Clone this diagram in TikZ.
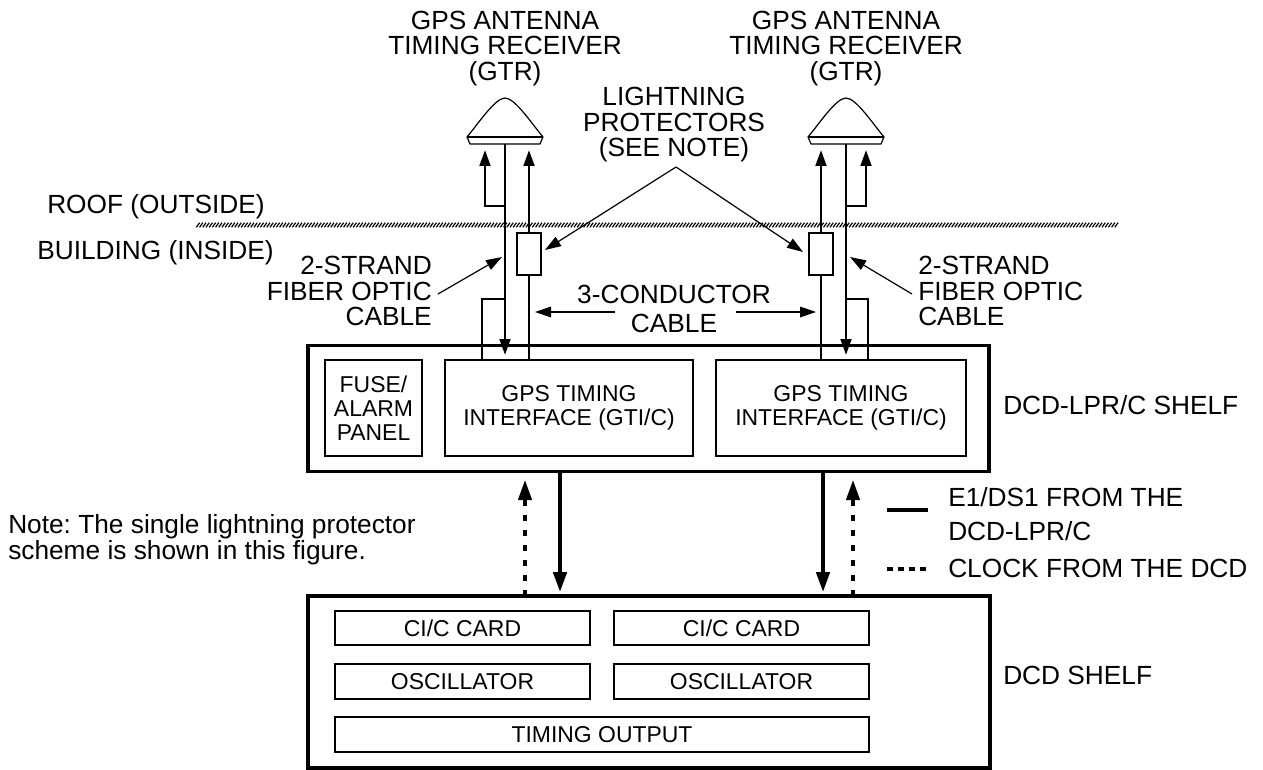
\documentclass[tikz,border=0pt]{standalone}
\usepackage{fontspec}
\setmainfont{Liberation Sans}
\usetikzlibrary{arrows.meta}
\tikzset{
  big/.style={font=\fontsize{19.7pt}{19.1pt}\selectfont\frenchspacing,inner sep=0pt},
  shelf/.style={draw,line width=2.5pt,inner sep=0pt},
  card/.style={draw,line width=1.8pt,inner sep=0pt,font=\fontsize{17.2pt}{17.8pt}\selectfont,align=center},
  protector/.style={draw,line width=1.8pt,inner sep=0pt,minimum width=18pt,minimum height=31.5pt},
  cable/.style={line width=2.1pt},
  cablearrow/.style={line width=2.1pt,-{Triangle[length=12pt,width=8pt]}},
  leader/.style={line width=0.9pt,-{Triangle[length=12pt,width=8pt]}},
  signal/.style={line width=2.8pt,-{Triangle[length=15pt,width=10pt]}},
  clocksig/.style={line width=2.5pt,dash pattern=on 4.5pt off 6.8pt,-{Triangle[length=15pt,width=10pt]}},
}
\begin{document}
\begin{tikzpicture}[x=0.75pt,y=-0.75pt]
\useasboundingbox (0,0) rectangle (1263,770);
% roof line
\foreach \h in {198,201.2,...,1118}{\draw[line width=0.9pt] (\h-1.6,227.3)--(\h+1.6,222.7);}
% shelves and cards
\node[shelf,minimum width=510.75pt,minimum height=94.5pt] (lpr) at (648.5,408.5) {};
\node[shelf,minimum width=511.5pt,minimum height=129pt] (dcd) at (649,682) {};
\node[card,minimum width=72.75pt,minimum height=72pt] (fuse) at (373.5,408) {FUSE/\\ALARM\\PANEL};
\node[card,minimum width=186pt,minimum height=72pt] (gti1) at (569,408) {GPS TIMING\\INTERFACE (GTI/C)};
\node[card,minimum width=187.5pt,minimum height=72pt] (gti2) at (841,408) {GPS TIMING\\INTERFACE (GTI/C)};
\node[card,minimum width=191.25pt,minimum height=25.5pt] (ci1) at (462.5,628) {CI/C CARD};
\node[card,minimum width=191.25pt,minimum height=25.5pt] (ci2) at (741.5,628) {CI/C CARD};
\node[card,minimum width=191.25pt,minimum height=26.25pt] (osc1) at (462.5,681.5) {OSCILLATOR};
\node[card,minimum width=191.25pt,minimum height=26.25pt] (osc2) at (741.5,681.5) {OSCILLATOR};
\node[card,minimum width=400.5pt,minimum height=26.25pt] (tim) at (602,734.5) {TIMING OUTPUT};
% protectors
\node[protector] (lp1) at (529,254) {};
\node[protector] (lp2) at (821,254) {};
% antennas
\coordinate (ant1) at (505,144);
\coordinate (ant2) at (846,144);
\foreach \a in {ant1,ant2}{
  \begin{scope}[shift={(\a)}]
    \draw[line width=0.9pt,line join=round] (-38,-7) .. controls (-27,-20) and (-10,-46) .. (0,-46) .. controls (10,-46) and (27,-20) .. (38,-7) -- (35,0) -- (-35,0) -- cycle;
    \draw[line width=1.8pt] (-38,-7) -- (38,-7);
  \end{scope}
}
% cable tips and junctions
\coordinate (tipa) at (485,150);
\coordinate (tipb) at (866,150);
\coordinate (jua) at (505,206);
\coordinate (jub) at (846,206);
\coordinate (jla) at (505,299);
\coordinate (jlb) at (846,299);
\coordinate (stuba) at (482,299);
\coordinate (stubb) at (868,299);
\coordinate (enda) at (505,355);
\coordinate (endb) at (846,355);
% cables
\draw[cablearrow] (ant1) -- (enda);
\draw[cablearrow] (ant2) -- (endb);
\draw[cablearrow] (jua) -| (tipa);
\draw[cablearrow] (jub) -| (tipb);
\draw[cable] (jla) -- (stuba) -- (stuba |- gti1.north);
\draw[cable] (jlb) -- (stubb) -- (stubb |- gti2.north);
\draw[cablearrow] (lp1.north) -- (lp1.north |- tipa);
\draw[cablearrow] (lp2.north) -- (lp2.north |- tipb);
\draw[cable] (lp1.south) -- (lp1.south |- gti1.north);
\draw[cable] (lp2.south) -- (lp2.south |- gti2.north);
% labels
\node[big,align=center] (gtra) at (505,48.5) {GPS ANTENNA\\TIMING RECEIVER\\(GTR)};
\node[big,align=center] (gtrb) at (846,48.5) {GPS ANTENNA\\TIMING RECEIVER\\(GTR)};
\node[big,align=center] (lpl) at (674,125) {LIGHTNING\\PROTECTORS\\(SEE NOTE)};
\node[big,anchor=base west] (roof) at (47,214) {ROOF (OUTSIDE)};
\node[big,anchor=base west] (bldg) at (37,259) {BUILDING (INSIDE)};
\node[big,align=right,anchor=east] (fa) at (432,291) {2-STRAND\\FIBER OPTIC\\CABLE};
\node[big,align=left,anchor=west] (fb) at (918,291) {2-STRAND\\FIBER OPTIC\\CABLE};
\node[big,align=center] (cond) at (674,309) {3-CONDUCTOR\\[2.5pt]CABLE};
\node[big,anchor=base west] (lprl) at (1003,414) {DCD-LPR/C SHELF};
\node[big,anchor=base west] (dcdl) at (1003,684) {DCD SHELF};
\node[big,align=left,anchor=base west] (note) at (8,559) {Note: The single lightning protector\\scheme is shown in this figure.};
\node[big,align=left,anchor=base west] (e1) at (948,540) {E1/DS1 FROM THE\\[6.4pt]DCD-LPR/C};
\node[big,anchor=base west] (clk) at (948,577) {CLOCK FROM THE DCD};
% leaders
\coordinate (lpapex) at (676,167);
\coordinate (la) at (438,294);
\coordinate (lb) at (912,294);
\coordinate (lat) at (502,257);
\coordinate (lbt) at (850,257);
\coordinate (pa) at (545,250);
\coordinate (pb) at (803,252);
\coordinate (ca) at (615,312);
\coordinate (cb) at (736,312);
\coordinate (cat) at (535,312);
\coordinate (cbt) at (816,312);
\draw[leader] (la) -- (lat);
\draw[leader] (lb) -- (lbt);
\draw[leader] (lpapex) -- (pa);
\draw[leader] (lpapex) -- (pb);
\draw[leader] (ca) -- (cat);
\draw[leader] (cb) -- (cbt);
% signals between shelves
\coordinate (s1) at (560,471);
\coordinate (s2) at (823,471);
\coordinate (c1) at (525,596);
\coordinate (c2) at (853,596);
\draw[signal] (s1) -- (s1 |- 0,592);
\draw[signal] (s2) -- (s2 |- 0,592);
\draw[clocksig] (c1) -- (c1 |- 0,480);
\draw[clocksig] (c2) -- (c2 |- 0,480);
% legend
\coordinate (k1) at (887,510);
\coordinate (k2) at (928,510);
\coordinate (k3) at (887,569);
\coordinate (k4) at (928,569);
\draw[line width=2.8pt] (k1) -- (k2);
\draw[line width=2.5pt,dash pattern=on 4.5pt off 3.7pt] (k3) -- (k4);
\end{tikzpicture}
\end{document}
